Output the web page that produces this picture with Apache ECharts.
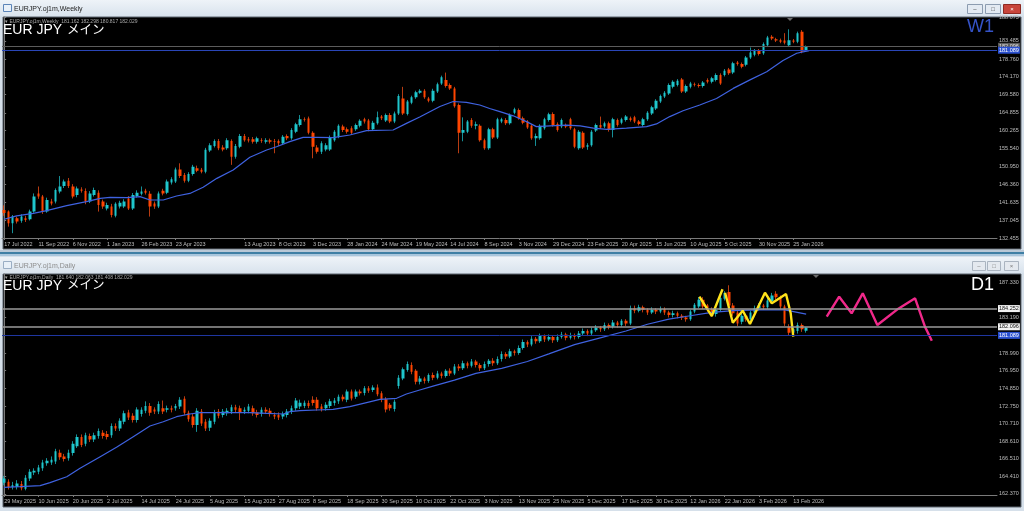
<!DOCTYPE html>
<html><head><meta charset="utf-8">
<script src="https://cdn.jsdelivr.net/npm/echarts@6/dist/echarts.min.js"></script>
<style>html,body{margin:0;padding:0;background:#d6e0ea;}#c{width:1024px;height:511px;}</style>
</head><body><div id="c"></div><script>
// ---------------- DATA ----------------
const SLOTS = 232;
const weeklyTickLabels = ['17 Jul 2022','11 Sep 2022','6 Nov 2022','1 Jan 2023','26 Feb 2023','23 Apr 2023','','13 Aug 2023','8 Oct 2023','3 Dec 2023','28 Jan 2024','24 Mar 2024','19 May 2024','14 Jul 2024','8 Sep 2024','3 Nov 2024','29 Dec 2024','23 Feb 2025','20 Apr 2025','15 Jun 2025','10 Aug 2025','5 Oct 2025','30 Nov 2025','25 Jan 2026'];
const dailyTickLabels = ['29 May 2025','10 Jun 2025','20 Jun 2025','2 Jul 2025','14 Jul 2025','24 Jul 2025','5 Aug 2025','15 Aug 2025','27 Aug 2025','8 Sep 2025','18 Sep 2025','30 Sep 2025','10 Oct 2025','22 Oct 2025','3 Nov 2025','13 Nov 2025','25 Nov 2025','5 Dec 2025','17 Dec 2025','30 Dec 2025','12 Jan 2026','22 Jan 2026','3 Feb 2026','13 Feb 2026'];
const weeklyYTicks = [132.455,137.045,141.635,146.360,150.950,155.540,160.265,164.855,169.580,174.170,178.760,183.485];
const weeklyYTopLabel = '188.075';
const dailyYTicks = [162.370,164.410,166.510,168.610,170.710,172.750,174.850,176.950,178.990,183.190,187.330];
const weeklyHeader = 'EURJPY.oj1m,Weekly  181.162 182.298 180.817 182.029';
const dailyHeader = 'EURJPY.oj1m,Daily  181.640 182.063 181.408 182.029';
const symbolText = 'EUR JPY', symbolNote = 'メイン';
const weeklyLevels = [182.096, 181.089];
const dailyLevels = [184.252, 182.096, 181.089];

// weekly candles [open, close, low, high]
const weeklyCandles = [
[139.7,138.9,138.2,140.9],[139.3,136.3,135.4,139.6],[136.3,138.0,133.7,138.4],[137.6,136.7,136.2,138.0],[136.9,138.0,136.4,138.6],
[137.6,137.1,136.6,138.2],[137.3,139.3,137.0,139.8],[139.3,143.2,139.0,144.0],[144.0,143.2,142.6,145.8],[143.2,139.3,138.7,143.6],
[139.3,142.3,139.0,142.9],[141.9,141.4,140.9,142.6],[141.9,144.9,141.4,145.3],[144.5,145.8,144.0,148.5],[145.9,147.1,145.4,147.6],
[147.3,145.9,145.4,148.0],[145.8,143.2,142.7,146.4],[143.6,145.3,143.0,145.8],[145.0,144.7,144.2,145.6],[144.6,141.9,141.2,145.3],
[141.9,144.0,141.5,144.6],[143.6,144.9,143.2,145.5],[144.2,141.0,139.3,144.8],[141.9,140.6,140.0,142.4],[140.1,141.0,139.6,141.6],
[140.6,138.4,137.8,141.3],[138.2,141.3,137.8,141.7],[140.6,141.6,140.1,142.1],[140.6,141.9,140.2,142.5],[142.7,140.1,139.7,143.3],
[140.1,143.6,139.7,144.1],[143.3,144.2,142.9,144.8],[143.9,144.5,143.5,145.8],[144.7,144.2,143.7,145.2],[143.9,140.6,138.0,144.6],
[141.4,140.6,140.0,141.9],[140.6,144.0,140.2,144.5],[144.7,144.0,143.5,145.2],[144.2,147.1,143.8,147.6],[146.8,147.7,146.3,148.2],
[147.1,150.2,146.7,150.7],[150.2,148.5,148.0,151.8],[148.8,147.3,146.8,149.3],[147.3,149.0,146.9,149.5],[149.0,150.9,148.6,151.4],
[150.5,149.9,149.5,151.2],[150.1,149.6,149.2,150.6],[149.6,155.3,149.2,155.8],[155.1,156.5,154.7,157.0],[156.3,157.6,155.9,158.0],
[157.6,155.7,155.2,158.1],[155.9,155.4,154.9,156.5],[155.7,157.8,155.3,158.3],[157.6,153.5,151.4,158.0],[153.5,156.3,153.0,156.8],
[156.1,158.9,155.7,159.4],[158.9,157.8,157.4,159.4],[158.0,157.7,157.2,158.6],[158.0,157.4,156.9,158.6],[157.4,158.3,156.9,158.7],
[157.8,157.6,157.1,158.3],[157.4,157.8,156.9,158.3],[157.8,157.4,156.9,158.2],[157.6,157.4,154.4,158.1],[157.6,157.0,156.3,158.0],
[157.0,158.7,156.6,159.1],[158.9,158.3,157.8,159.3],[158.3,160.4,157.9,160.9],[160.0,161.9,159.6,162.3],[161.7,163.2,161.3,164.3],
[163.2,163.0,162.6,163.7],[163.4,159.7,159.3,163.9],[159.7,156.1,153.1,160.1],[155.9,154.8,154.3,156.5],[154.8,157.0,154.2,157.5],
[155.4,156.5,154.9,157.0],[155.4,158.5,155.0,159.0],[157.8,160.0,157.4,160.4],[158.7,161.5,158.3,161.9],[161.3,160.4,159.9,161.8],
[160.6,160.0,159.5,161.1],[160.9,159.7,159.2,161.4],[160.6,161.7,160.2,162.1],[161.5,162.8,161.1,163.2],[163.2,162.6,162.1,163.6],
[162.9,160.6,160.1,163.3],[160.6,162.3,160.2,162.8],[162.2,163.7,161.8,165.2],[163.9,163.5,163.0,164.3],[162.9,164.3,162.5,164.7],
[164.3,162.6,162.2,164.8],[162.6,164.7,162.2,165.2],[164.7,169.2,164.3,169.7],[168.6,164.7,164.3,171.6],[164.6,167.8,164.2,168.2],
[167.5,168.9,167.1,169.3],[168.9,170.2,168.5,170.6],[170.1,170.6,169.8,171.0],[170.6,168.9,168.5,171.0],[168.6,168.0,167.6,169.0],
[168.0,170.6,167.6,171.1],[170.4,172.3,170.0,172.7],[172.5,174.1,172.1,174.5],[173.4,171.8,171.4,175.3],[172.1,171.2,170.8,172.5],
[171.2,166.6,166.2,171.6],[166.9,159.7,154.4,167.3],[159.7,160.4,157.5,163.7],[160.0,162.6,159.6,163.0],[163.0,161.5,161.0,163.5],
[161.5,161.9,160.6,162.6],[161.5,157.8,157.4,161.9],[157.8,155.7,155.3,158.2],[155.7,160.6,155.3,161.0],[160.6,158.5,158.1,161.0],
[158.5,163.2,158.1,163.6],[162.6,163.2,162.2,163.6],[163.0,162.2,161.7,163.5],[162.2,164.3,161.8,164.7],[164.9,165.8,164.5,166.2],
[165.6,163.5,163.1,166.0],[163.5,162.3,161.9,163.9],[162.6,161.1,160.7,163.0],[161.5,158.3,157.9,161.9],[158.3,158.9,156.3,159.5],
[158.3,161.5,157.9,161.9],[160.9,163.2,160.5,163.6],[163.0,164.5,162.6,164.9],[164.6,161.7,161.3,165.0],[162.0,160.4,160.0,162.4],
[161.3,163.0,160.9,163.4],[161.7,161.3,160.9,162.1],[163.2,160.9,160.5,163.6],[160.6,156.1,155.7,161.0],[155.7,160.0,155.3,160.4],
[159.7,155.9,155.5,160.1],[156.1,156.5,155.3,157.0],[156.5,160.0,156.1,160.4],[160.3,161.7,159.9,162.1],[161.7,161.1,160.7,163.9],
[161.3,162.2,160.9,162.6],[162.2,160.4,160.0,162.6],[160.4,163.2,158.5,163.6],[163.0,161.7,161.3,163.4],[162.3,163.2,161.9,163.6],
[163.0,163.9,162.6,164.3],[163.5,163.0,162.6,163.9],[163.7,162.6,162.2,164.1],[162.6,162.0,161.6,163.0],[161.7,163.2,161.3,163.6],
[163.2,164.9,162.8,165.3],[164.7,166.3,164.3,166.7],[166.0,168.0,165.6,168.4],[167.8,169.2,167.4,169.6],[169.1,170.1,168.7,170.5],
[169.9,172.1,169.5,172.5],[171.6,172.9,171.2,173.3],[172.1,173.2,171.7,173.6],[173.5,170.4,170.0,173.9],[170.4,171.8,170.0,172.2],
[171.6,172.5,171.2,172.9],[172.3,172.1,171.7,172.7],[172.1,171.8,171.4,172.5],[171.8,172.7,171.4,173.1],[173.4,172.9,172.5,173.8],
[172.9,173.8,172.5,174.2],[173.4,174.7,173.0,175.1],[174.7,172.5,172.1,175.1],[174.7,175.8,174.3,176.2],[176.1,175.1,174.7,176.5],
[175.3,177.7,174.9,178.1],[177.9,177.5,177.1,178.3],[177.5,176.8,176.4,177.9],[177.3,179.2,176.9,179.6],[179.2,180.5,178.8,181.8],
[179.9,181.0,179.5,181.4],[181.0,180.1,179.7,181.4],[180.3,182.7,179.9,183.1],[182.4,184.4,182.0,184.8],[184.6,184.1,183.7,185.0],
[183.9,183.6,183.2,184.3],[183.7,183.3,182.9,184.1],[183.6,183.0,182.6,185.5],[182.4,183.7,182.0,186.5],[183.6,183.3,182.9,184.0],
[183.3,185.5,182.9,185.9],[185.9,180.7,180.3,186.3],[181.16,182.03,180.82,182.30]
];
const weeklyMA = [[0,137.3],[2.9,138.2],[6.8,138.85],[9.9,139.54],[14.6,140.83],[19.2,141.87],[22.4,142.73],[24.7,142.99],[28.6,142.9],[31.7,143.16],[34,142.3],[37.1,142.3],[40.2,143.33],[43.3,144.0],[46.4,145.58],[49.6,147.9],[53.4,150.07],[57.3,153.35],[61.2,155.25],[63.5,156.1],[66.6,157.4],[69.7,158.53],[72.9,158.53],[76.7,158.44],[80.6,159.13],[84.5,160.26],[90.7,160.43],[93.8,162.15],[96.9,163.8],[101.6,166.5],[104.7,167.8],[107.8,167.6],[110.9,166.9],[113.2,166.0],[115.6,165.2],[118.7,164.1],[121.8,162.6],[124.1,161.3],[127.3,161.5],[131.1,161.7],[134.3,161.5],[137.4,160.9],[140.5,160.6],[145.1,160.9],[149.8,161.3],[152.1,162.0],[155.2,163.9],[158.3,165.4],[162.2,166.9],[166.1,168.6],[170,171.2],[173.9,173.4],[177.8,175.5],[181.6,178.4],[184.8,180.3],[187.7,181.0]];

// daily candles [open, close, low, high]
const dailyCandles = [
[163.7,164.2,163.4,164.5],[163.8,163.2,162.9,164.1],[163.2,163.4,162.9,163.8],[163.2,163.6,162.9,164.0],[163.55,163.04,162.8,163.9],
[163.0,164.3,162.8,164.6],[164.2,165.0,163.9,165.3],[164.9,165.1,164.6,165.4],[165.0,165.5,164.7,165.8],[165.4,166.1,165.1,166.4],
[166.0,166.3,165.7,166.6],[166.1,166.4,165.8,166.8],[166.2,167.4,165.9,167.7],[167.25,166.7,166.4,167.6],[166.8,166.5,166.2,167.1],
[166.6,167.25,166.3,167.6],[167.2,168.3,166.9,168.6],[168.0,169.1,167.8,169.4],[169.1,168.15,167.9,169.4],[168.3,169.3,168.0,169.6],
[169.2,168.8,168.5,169.5],[168.8,169.3,168.5,169.6],[169.2,169.8,168.9,170.1],[169.6,169.2,168.9,169.9],[169.45,169.1,168.8,169.8],
[169.3,170.4,169.0,170.7],[170.4,170.1,169.8,170.7],[170.1,171.0,169.8,171.3],[170.9,171.9,170.6,172.2],[172.0,171.4,171.1,172.3],
[171.6,171.1,170.8,171.9],[171.1,172.35,170.8,172.6],[171.8,172.3,171.5,172.6],[172.2,172.75,171.9,173.3],[172.75,171.95,171.6,173.1],
[172.35,172.1,171.8,172.6],[172.1,173.0,171.8,173.3],[172.5,172.1,171.8,173.4],[172.3,172.5,172.0,172.8],[172.5,172.3,172.0,172.8],
[172.5,172.75,172.2,173.0],[172.7,173.5,172.4,173.8],[173.6,171.95,171.7,173.9],[171.95,171.2,170.9,172.2],[171.5,170.5,170.2,171.8],
[170.5,172.2,169.7,172.5],[172.1,170.7,170.4,172.4],[170.9,170.1,169.8,171.2],[170.2,171.0,169.8,171.3],[170.9,172.0,170.6,172.3],
[172.1,171.6,171.3,172.4],[171.7,172.1,171.4,172.4],[171.9,172.2,171.6,172.5],[172.1,172.6,171.8,172.9],[172.6,172.3,172.0,172.9],
[172.5,172.0,171.1,172.8],[172.1,172.3,171.8,172.6],[172.2,172.7,171.9,173.0],[172.5,171.9,171.6,172.8],[172.0,171.7,171.4,172.3],
[171.8,172.3,171.5,172.6],[172.3,172.1,171.8,172.6],[172.2,171.8,171.5,172.5],[171.7,171.5,171.2,172.0],[171.7,171.4,171.1,172.0],
[171.5,171.8,171.2,172.1],[171.7,172.1,171.4,172.4],[172.1,172.5,171.8,172.8],[172.5,173.4,172.2,173.7],[172.7,173.15,172.4,173.5],
[172.75,173.15,172.5,173.4],[173.1,172.75,172.5,173.4],[173.5,173.1,172.8,173.9],[173.5,172.5,172.2,173.8],[172.7,172.4,172.1,173.0],
[172.5,172.9,172.2,173.2],[172.75,173.3,172.5,173.6],[173.1,173.4,172.8,173.7],[173.3,173.85,173.0,174.1],[173.85,173.55,173.3,174.1],
[173.5,174.45,173.2,174.7],[174.45,173.65,173.4,174.7],[173.85,174.45,173.6,174.7],[174.45,174.25,174.0,174.7],[174.3,174.85,174.0,175.1],
[174.85,174.55,174.3,175.1],[174.65,174.95,174.4,175.2],[174.95,174.15,173.9,175.3],[174.25,173.45,173.2,174.5],[173.55,172.35,172.0,173.8],
[172.9,172.5,172.2,173.1],[172.4,173.25,172.1,173.5],[175.1,176.1,174.8,176.4],[176.0,177.1,175.8,177.3],[177.0,177.7,176.8,178.0],
[177.6,176.8,176.5,177.9],[176.9,175.6,175.3,177.1],
[175.6,176.0,175.3,176.3],[176.0,175.7,175.4,176.2],[175.7,176.4,175.5,176.6],[176.4,176.1,175.8,176.7],[176.1,176.6,175.9,176.9],
[176.6,176.3,176.0,176.8],[176.3,176.9,176.1,177.1],[176.9,176.6,176.3,177.2],[176.6,177.4,176.4,177.7],[177.4,177.2,176.9,177.7],
[177.2,177.8,177.0,178.1],[177.8,177.5,177.2,178.0],[177.5,178.0,177.3,178.3],[178.0,177.6,177.3,178.2],[177.6,177.2,176.9,177.8],
[177.2,177.7,177.0,178.0],[177.7,178.1,177.4,178.3],[178.1,177.8,177.5,178.4],[177.8,178.3,177.6,178.6],[178.3,178.9,178.0,179.2],
[178.9,178.6,178.3,179.1],[178.6,179.2,178.4,179.5],[179.2,179.0,178.7,179.4],[179.0,179.6,178.8,179.9],[179.6,180.3,179.4,180.6],
[180.3,180.0,179.7,180.5],[180.0,180.7,179.8,181.0],[180.7,180.4,180.1,180.9],[180.4,181.0,180.2,181.3],[181.0,180.6,180.3,181.2],
[180.6,180.9,180.4,181.2],[180.9,180.5,180.2,181.1],[180.5,180.9,180.3,181.2],[180.9,181.2,180.7,181.5],[181.2,180.8,180.5,181.4],
[180.8,181.1,180.6,181.4],[181.1,180.9,180.6,181.3],[180.9,181.3,180.7,181.6],[181.3,181.6,181.1,181.9],[181.6,181.3,181.0,181.8],
[181.3,181.7,181.1,182.0],[181.7,182.0,181.5,182.3],[182.0,181.8,181.5,182.2],[181.8,182.3,181.6,182.6],[182.3,182.1,181.8,182.5],
[182.1,182.6,181.9,182.9],[182.6,182.3,182.0,182.8],[182.3,182.8,182.1,183.0],[182.8,182.5,182.2,183.0],[182.5,184.3,182.3,184.6],
[184.3,184.0,183.7,184.6],[184.0,184.4,183.8,184.7],[184.4,184.1,183.8,184.6],[184.1,183.8,183.5,184.3],[183.8,184.1,183.6,184.4],
[184.1,183.9,183.6,184.3],[183.9,184.2,183.7,184.5],[184.2,183.8,183.5,184.4],[183.8,183.5,183.2,184.0],[183.5,183.7,183.2,184.0],
[183.7,183.4,183.1,183.9],[183.4,183.2,182.9,183.6],[183.2,183.0,182.7,183.4],[183.0,183.9,182.8,184.1],[183.9,184.7,183.7,184.9],
[184.5,185.3,184.3,185.6],[185.3,184.5,184.2,185.6],[184.6,184.2,183.9,184.8],[184.2,183.6,183.3,184.4],[183.6,184.1,183.3,184.4],
[184.1,185.5,183.9,185.8],[185.4,186.1,185.2,186.3],[186.2,184.6,184.3,187.0],[184.6,183.7,183.4,184.9],[183.8,182.5,182.2,184.0],
[182.7,183.4,182.4,183.7],[183.4,183.0,182.7,183.6],[183.0,183.8,182.8,184.0],[183.8,184.3,183.6,184.6],[184.3,184.6,184.0,184.9],
[184.6,184.4,184.1,184.8],[184.4,185.2,184.2,185.5],[185.1,185.8,184.9,186.1],[186.0,185.6,185.3,186.3],[185.5,184.5,184.2,185.8],
[184.5,182.5,182.2,184.7],[182.1,181.4,181.1,182.4],[181.4,181.8,181.2,182.0],[181.6,182.3,181.3,182.6],[182.3,181.8,181.5,182.5],
[181.64,182.03,181.41,182.06]
];
const dailyMA = [[0,163.16],[3.7,163.23],[8.4,163.35],[10.7,163.71],[14.6,164.41],[17.7,165.4],[22.4,166.77],[26.2,167.88],[30.1,169.13],[34,170.39],[37.1,170.9],[40.2,171.49],[43.3,171.81],[45.7,171.97],[53.4,171.97],[57.3,171.97],[61.2,171.89],[65.1,171.81],[66.6,172.08],[69,172.2],[72.9,172.28],[76.7,172.36],[80.6,172.67],[84.5,173.15],[87.6,173.54],[91.5,173.66],[93.8,174.17],[96.9,174.64],[100,175.1],[105,175.8],[110,176.6],[116,177.2],[122,178.0],[127,178.9],[133,180.0],[139,180.8],[145,181.6],[150,182.4],[155,183.0],[160,183.4],[165,183.8],[170,184.0],[176,184.1],[182,184.1],[187,183.6]];
// hand-drawn annotation strokes on the daily chart [bar index, price]
const yellowStroke1 = [[162.1,185.65],[165.0,183.37],[167.5,186.53]];
const yellowStroke2 = [[168.1,186.12],[169.9,182.58],[172.2,184.0],[173.9,182.43],[177.4,186.12],[179.0,184.87],[182.3,185.97],[183.4,183.69],[184.0,180.93]];
const pinkStroke = [[191.8,183.29],[194.7,185.65],[197.6,183.69],[200.2,186.05],[203.6,182.31],[208.5,184.24],[212.4,185.46],[214.7,182.12],[216.3,180.46]];

// ---------------- CHART ----------------
const cats = Array.from({length: SLOTS}, (_, i) => String(i));
const BULL = '#1fc6cc', BEAR = '#ff4500', BULL_WICK = '#168f96', BEAR_WICK = '#b83c12', MA = '#3f62e0';
const LBL = '#bdbdbd', AX = '#7a7a7a';
const W_MIN = 132.455, W_MAX = 189.69, D_MIN = 162.25, D_MAX = 188.33;

function xAxisCat(grid, labels) {
  const show = (i) => i % 8 === 0 && i / 8 < labels.length;
  return {
    type: 'category', gridIndex: grid, data: cats, boundaryGap: true,
    axisLine: {lineStyle: {color: AX, width: 1}},
    axisTick: {show: true, alignWithLabel: true, interval: (i) => show(i), length: 2, lineStyle: {color: AX}},
    axisLabel: {interval: (i) => show(i), formatter: (v, i) => labels[i / 8] || '', align: 'left', margin: 3,
      fontSize: 5.5, color: LBL, fontFamily: 'Liberation Sans'},
    splitLine: {show: false}
  };
}
function xAxisVal(grid) {
  return {type: 'value', gridIndex: grid, min: -0.5, max: SLOTS - 0.5, show: false};
}
function yAxis(grid, min, max, ticks, topLabel) {
  const vals = topLabel ? ticks.concat([max]) : ticks;
  return {
    type: 'value', gridIndex: grid, position: 'right', min: min, max: max, scale: true,
    axisLine: {show: true, lineStyle: {color: AX, width: 1}},
    axisTick: {show: true, customValues: vals, length: 2, lineStyle: {color: AX}},
    axisLabel: {customValues: vals, margin: 2, fontSize: 5.5, color: LBL, fontFamily: 'Liberation Sans',
      formatter: (v) => (topLabel && Math.abs(v - max) < 1e-6) ? topLabel : v.toFixed(3)},
    splitLine: {show: false}
  };
}
function levelLines(levels, styles) {
  return {
    silent: true, symbol: ['none', 'none'], animation: false,
    data: levels.map((v, k) => ({
      yAxis: v,
      lineStyle: {color: styles[k].line, width: styles[k].w || 1, type: 'solid'},
      label: {show: true, position: 'end', distance: 1, formatter: v.toFixed(3), fontSize: 5.5,
        fontFamily: 'Liberation Sans', color: styles[k].text, backgroundColor: styles[k].bg, padding: [1, 1, 0, 1]}
    }))
  };
}
function wicks(xi, yi, data) {
  return {
    type: 'candlestick', xAxisIndex: xi, yAxisIndex: yi, data: data, barWidth: 1, z: 2,
    itemStyle: {color: BULL_WICK, color0: BEAR_WICK, borderColor: BULL_WICK, borderColor0: BEAR_WICK, borderWidth: 1},
    animation: false
  };
}
function bodies(xi, yi, data, marks) {
  return {
    type: 'candlestick', xAxisIndex: xi, yAxisIndex: yi, data: data, barWidth: 3, z: 2,
    itemStyle: {color: BULL, color0: BEAR, borderColor: BULL, borderColor0: BEAR, borderWidth: 0},
    markLine: marks, animation: false
  };
}
function line(xi, yi, data, color, w) {
  return {type: 'line', xAxisIndex: xi, yAxisIndex: yi, data: data, showSymbol: false, symbol: 'none',
    lineStyle: {color: color, width: w}, smooth: false, animation: false, z: 3};
}

function txt(x, y, s, size, color, extra) {
  return Object.assign({type: 'text', x: x, y: y, z: 100, silent: true,
    style: Object.assign({text: s, fontSize: size, fill: color, fontFamily: 'Liberation Sans, Noto Sans CJK JP',
      textVerticalAlign: 'middle'}, extra || {})});
}
function rect(x, y, w, h, fill, z, stroke) {
  return {type: 'rect', z: z === undefined ? -1 : z, silent: true, shape: {x: x, y: y, width: w, height: h},
    style: Object.assign({fill: fill}, stroke ? {stroke: stroke, lineWidth: 1} : {})};
}
function button(x, y, w, h, fill, stroke, glyph, gcol) {
  return [rect(x + 0.5, y + 0.5, w, h, fill, 90, stroke), txt(x + w / 2 + 0.5, y + h / 2 + 1, glyph, 6, gcol, {textAlign: 'center'})];
}
const titleGrad = {type: 'linear', x: 0, y: 0, x2: 0, y2: 1, colorStops: [{offset: 0, color: '#eef3f8'}, {offset: 1, color: '#d9e3ed'}]};

const graphic = [
  rect(0, 0, 1024, 511, '#d6e0ea', -3),
  rect(0, 0, 1024, 16, titleGrad, -2),
  rect(3, 17, 1018, 232, '#000000', -1, '#5e6670'),
  rect(0, 250, 1024, 2, '#b9c8d6', -2),
  rect(0, 252, 1024, 2, '#3f7fa4', -2),
  rect(0, 254, 1024, 2, '#a9c6dc', -2),
  rect(0, 257, 1024, 16, titleGrad, -2),
  rect(3, 274, 1018, 233, '#000000', -1, '#5e6670'),
  rect(3.5, 4.5, 8, 7, '#e8f0f8', 90, '#5b84b8'),
  rect(3.5, 261.5, 8, 7, '#e8f0f8', 90, '#9aaec4'),
  txt(14, 9, 'EURJPY.oj1m,Weekly', 7, '#1c1c1c'),
  txt(14, 266, 'EURJPY.oj1m,Daily', 7, '#8d8d8d'),
  ...button(967, 4, 15, 9, '#e3eaf2', '#8c9cb0', '–', '#333'),
  ...button(985, 4, 15, 9, '#e3eaf2', '#8c9cb0', '□', '#333'),
  ...button(1003, 4, 17, 9, '#c8453b', '#8e2a22', '×', '#fff'),
  ...button(972, 261, 13, 9, '#e4e9ef', '#aab4c0', '–', '#777'),
  ...button(987, 261, 13, 9, '#e4e9ef', '#aab4c0', '□', '#777'),
  ...button(1004, 261, 14, 9, '#e4e9ef', '#aab4c0', '×', '#777'),
  txt(5, 22, '▾ ' + weeklyHeader, 5, '#a8a8a8'),
  txt(5, 278, '▾ ' + dailyHeader, 5, '#a8a8a8'),
  txt(3, 30.5, symbolText, 14, '#ffffff'),
  txt(67, 30.5, symbolNote, 12.5, '#ffffff'),
  txt(3, 286, symbolText, 14, '#ffffff'),
  txt(67, 286, symbolNote, 12.5, '#ffffff'),
  txt(994, 27, 'W1', 18, '#3553c8', {textAlign: 'right'}),
  txt(994, 285, 'D1', 18, '#ffffff', {textAlign: 'right'}),
  {type: 'polygon', z: 100, silent: true, shape: {points: [[787, 18], [793, 18], [790, 21]]}, style: {fill: '#6a6a6a'}},
  {type: 'polygon', z: 100, silent: true, shape: {points: [[813, 275], [819, 275], [816, 278]]}, style: {fill: '#6a6a6a'}}
];

const chart = echarts.init(document.getElementById('c'), null, {renderer: 'canvas'});
chart.setOption({
  animation: false,
  backgroundColor: 'transparent',
  graphic: graphic,
  grid: [
    {left: 2, top: 17, width: 995, height: 221, containLabel: false},
    {left: 2, top: 274, width: 995, height: 221, containLabel: false}
  ],
  xAxis: [xAxisCat(0, weeklyTickLabels), xAxisCat(1, dailyTickLabels), xAxisVal(0), xAxisVal(1)],
  yAxis: [yAxis(0, W_MIN, W_MAX, weeklyYTicks, weeklyYTopLabel), yAxis(1, D_MIN, D_MAX, dailyYTicks, null)],
  series: [
    wicks(0, 0, weeklyCandles),
    bodies(0, 0, weeklyCandles, levelLines(weeklyLevels, [
      {line: '#5c5c5c', bg: '#5c5c5c', text: '#e0e0e0'},
      {line: '#2a46b8', bg: '#2a50d0', text: '#ffffff'}])),
    line(2, 0, weeklyMA, MA, 1.2),
    wicks(1, 1, dailyCandles),
    bodies(1, 1, dailyCandles, levelLines(dailyLevels, [
      {line: '#9a9a9a', bg: '#f2f2f2', text: '#111111', w: 1.5},
      {line: '#9a9a9a', bg: '#f2f2f2', text: '#111111', w: 1.5},
      {line: '#1f36a0', bg: '#2a50d0', text: '#ffffff'}])),
    line(3, 1, dailyMA, MA, 1.2),
    line(3, 1, yellowStroke1, '#ffe21a', 2.4),
    line(3, 1, yellowStroke2, '#ffe21a', 2.4),
    line(3, 1, pinkStroke, '#f0288a', 2.4)
  ]
});
</script></body></html>
